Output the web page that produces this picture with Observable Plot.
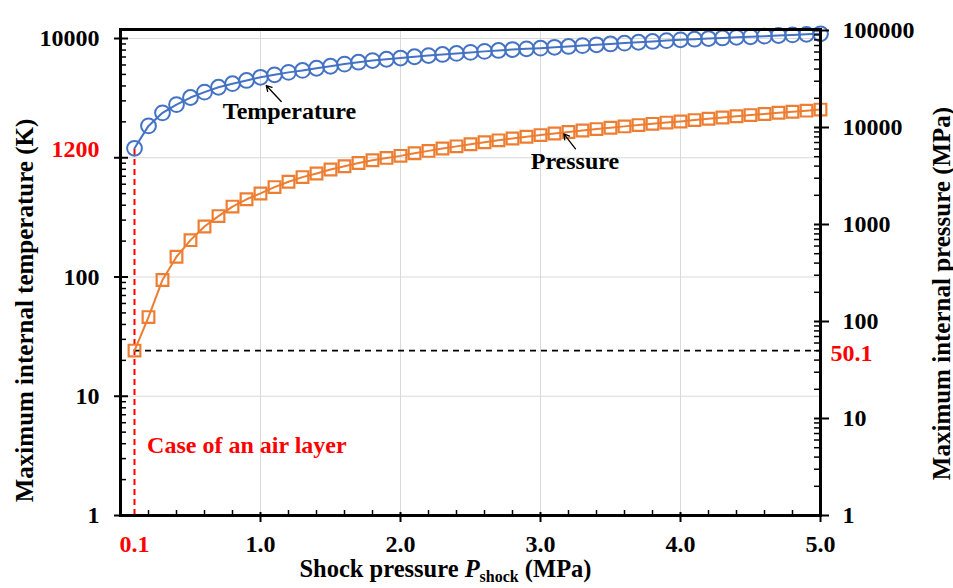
<!DOCTYPE html>
<html><head><meta charset="utf-8">
<script src="https://cdn.jsdelivr.net/npm/d3@7"></script>
<script src="https://cdn.jsdelivr.net/npm/@observablehq/plot@0.6"></script>
<style>
html,body{margin:0;padding:0;background:#fff;}
</style>
</head><body><div id="chart"></div>
<script>
// ---- data ----
const shockPressure = [0.1,0.2,0.3,0.4,0.5,0.6,0.7,0.8,0.9,1.0,
  1.1,1.2,1.3,1.4,1.5,1.6,1.7,1.8,1.9,2.0,
  2.1,2.2,2.3,2.4,2.5,2.6,2.7,2.8,2.9,3.0,
  3.1,3.2,3.3,3.4,3.5,3.6,3.7,3.8,3.9,4.0,
  4.1,4.2,4.3,4.4,4.5,4.6,4.7,4.8,4.9,5.0];
const maxTemperature = [1200,1850,2380,2790,3200,3550,3900,4180,4450,4730,
  4960,5200,5400,5630,5850,6100,6330,6530,6700,6860,
  7030,7190,7350,7500,7650,7800,7940,8080,8190,8300,
  8440,8580,8720,8860,9000,9150,9300,9450,9600,9750,
  9870,9990,10110,10230,10350,10470,10600,10720,10840,10950];
const maxPressure = [50.1,111,268,465,690,955,1220,1530,1820,2090,
  2430,2760,3080,3360,3690,3990,4300,4600,4860,5100,
  5420,5740,6070,6390,6720,7050,7370,7700,8020,8350,
  8670,8990,9310,9630,9950,10270,10590,10910,11230,11550,
  11920,12300,12670,13040,13420,13800,14170,14550,14920,15300];

const xMajorTicks = [1,2,3,4,5];
const xMinorTicks = [0.2,0.4,0.6,0.8,1.2,1.4,1.6,1.8,2.2,2.4,2.6,2.8,3.2,3.4,3.6,3.8,4.2,4.4,4.6,4.8];
const xRedTick = [0.1];
const leftMajorTicks = [1,10,100,1000,10000];
const leftLabelTicks = [1,10,100,10000];
const leftRedLabel = [1200];
const rightMajorTicks = [1,10,100,1000,10000,100000];
const rightRedLabel = [50.1];
const minorMultipliers = [2,3,4,5,6,7,8,9];

const airCase = {x:0.1, T:1200, P:50.1};
const textLabels = [
  {text:"Temperature", x:1.207, T:2462},
];
const textLabelsP = [
  {text:"Pressure", x:3.246, P:4505},
];
const arrowsT = [{x1:1.148, y1:2963, x2:1.041, y2:4036}];
const arrowsP = [{x1:3.25, y1:6030, x2:3.167, y2:8610}];
const caseLabel = [{text:"Case of an air layer", x:0.19, T:3.86}];

// ---- scales helpers ----
const FONT = "'Liberation Serif','Times New Roman',serif";
const BLUE = "#4472C4", ORANGE = "#ED7D31", RED = "#ff0000";
const Y_TOP = 11900;     // temperature at the top of the frame
const P_TOP = 102400;    // pressure at the top of the frame (right axis)
const F = Math.log10(Y_TOP) / Math.log10(P_TOP);
const pToT = p => Math.pow(p, F);

const rows = shockPressure.map((x, i) => ({x, T: maxTemperature[i], P: maxPressure[i]}));
const minorLog = n => d3.range(0, n).flatMap(e => minorMultipliers.map(m => m * Math.pow(10, e)));

const bold = {fontWeight: "bold", fontFamily: FONT};
const noText = {tickFormat: () => "", label: null};
const TICK_FS = 24, TITLE_FS = 25;

const chart = Plot.plot({
  width: 953, height: 588,
  marginLeft: 120, marginRight: 133, marginTop: 29, marginBottom: 73,
  style: {fontFamily: FONT, background: "#fff", color: "black", overflow: "visible"},
  x: {domain: [0, 5]},
  y: {type: "log", domain: [1, Y_TOP]},
  marks: [
    Plot.ruleY(leftMajorTicks.slice(1), {stroke: "#d9d9d9", strokeWidth: 1}),
    Plot.ruleX(xMajorTicks.slice(0, 4), {stroke: "#d9d9d9", strokeWidth: 1}),
    Plot.ruleX([airCase.x], {y1: 1, y2: airCase.T, stroke: RED, strokeWidth: 2, strokeDasharray: "6,4"}),
    Plot.ruleY([pToT(airCase.P)], {x1: airCase.x, x2: 5, stroke: "black", strokeWidth: 1.6, strokeDasharray: "6,5"}),
    Plot.line(rows, {x: "x", y: d => pToT(d.P), stroke: ORANGE, strokeWidth: 2}),
    Plot.dot(rows, {x: "x", y: d => pToT(d.P), symbol: "square", r: 6.6, stroke: ORANGE, strokeWidth: 2.2, fill: "none"}),
    Plot.line(rows, {x: "x", y: "T", stroke: BLUE, strokeWidth: 2}),
    Plot.dot(rows, {x: "x", y: "T", r: 7.4, stroke: BLUE, strokeWidth: 2, fill: "none"}),
    Plot.frame({stroke: "black", strokeWidth: 3}),
    // left axis
    Plot.axisY({anchor: "left", ticks: leftMajorTicks, tickSize: 14, dx: 8, strokeWidth: 2, ...noText}),
    Plot.axisY({anchor: "left", ticks: minorLog(4), tickSize: 6, dx: 6, strokeWidth: 1.5, ...noText}),
    Plot.axisY({anchor: "left", ticks: leftLabelTicks, tickSize: 0, tickPadding: 21, fontSize: TICK_FS, ...bold, label: null, tickFormat: d => String(d)}),
    Plot.text(leftRedLabel, {x: 0, y: d => d, text: d => String(d), dx: -21, dy: 1, textAnchor: "end", fill: RED, fontSize: TICK_FS, ...bold}),
    // right axis
    Plot.axisY({anchor: "right", ticks: rightMajorTicks.map(pToT), tickSize: 15, dx: -7, strokeWidth: 2, ...noText}),
    Plot.axisY({anchor: "right", ticks: minorLog(5).map(pToT), tickSize: 7, dx: -7, strokeWidth: 1.5, ...noText}),
    Plot.text(rightMajorTicks, {x: 5, y: d => pToT(d), text: d => String(d), dx: 22, textAnchor: "start", fontSize: TICK_FS, ...bold}),
    Plot.text(rightRedLabel, {x: 5, y: d => pToT(d), text: d => String(d), dx: 10, dy: 3, textAnchor: "start", fill: RED, fontSize: TICK_FS, ...bold}),
    // x axis
    Plot.axisX({anchor: "bottom", ticks: xMajorTicks, tickSize: 10, dy: -3, strokeWidth: 2, ...noText}),
    Plot.axisX({anchor: "bottom", ticks: xMinorTicks, tickSize: 5, dy: -5, strokeWidth: 1.5, ...noText}),
    Plot.axisX({anchor: "bottom", ticks: xMajorTicks, tickSize: 0, tickPadding: 19, fontSize: TICK_FS, ...bold, label: null, tickFormat: d => d.toFixed(1)}),
    Plot.axisX({anchor: "bottom", ticks: xRedTick, tickSize: 0, tickPadding: 19, fontSize: TICK_FS, ...bold, label: null, fill: RED, tickFormat: d => d.toFixed(1)}),
    // titles
    Plot.text(["Maximum internal temperature (K)"], {frameAnchor: "left", text: d => d, rotate: -90, dx: -96, dy: 38, textAnchor: "middle", lineAnchor: "middle", fontSize: TITLE_FS, ...bold}),
    Plot.text(["Maximum internal pressure (MPa)"], {frameAnchor: "right", text: d => d, rotate: -90, dx: 121, dy: 21, textAnchor: "middle", lineAnchor: "middle", fontSize: TITLE_FS, ...bold}),
    Plot.text(["Shock pressure Pshock (MPa)"], {frameAnchor: "bottom", text: d => d, dx: -25, dy: 54, textAnchor: "middle", lineAnchor: "middle", fontSize: 24.5, ...bold}),
    // annotations
    Plot.text(textLabels, {x: "x", y: "T", text: "text", fontSize: 24, ...bold}),
    Plot.text(textLabelsP, {x: "x", y: d => pToT(d.P), text: "text", fontSize: 24, ...bold}),
    Plot.arrow(arrowsT, {x1: "x1", y1: "y1", x2: "x2", y2: "y2", stroke: "black", strokeWidth: 1.3, headLength: 7}),
    Plot.arrow(arrowsP, {x1: "x1", y1: d => pToT(d.y1), x2: "x2", y2: d => pToT(d.y2), stroke: "black", strokeWidth: 1.3, headLength: 7}),
    Plot.text(caseLabel, {x: "x", y: "T", text: "text", textAnchor: "start", fill: RED, fontSize: 24, ...bold})
  ]
});

// italic P with subscript in the x title
d3.select(chart).selectAll("text").each(function() {
  if (this.textContent === "Shock pressure Pshock (MPa)") {
    const t = d3.select(this);
    t.text(null);
    t.append("tspan").text("Shock pressure ");
    t.append("tspan").attr("font-style", "italic").text("P");
    t.append("tspan").attr("font-size", 16).attr("dy", 5).text("shock");
    t.append("tspan").attr("dy", -5).text(" (MPa)");
  }
});

document.getElementById("chart").appendChild(chart);
</script>
</body></html>
